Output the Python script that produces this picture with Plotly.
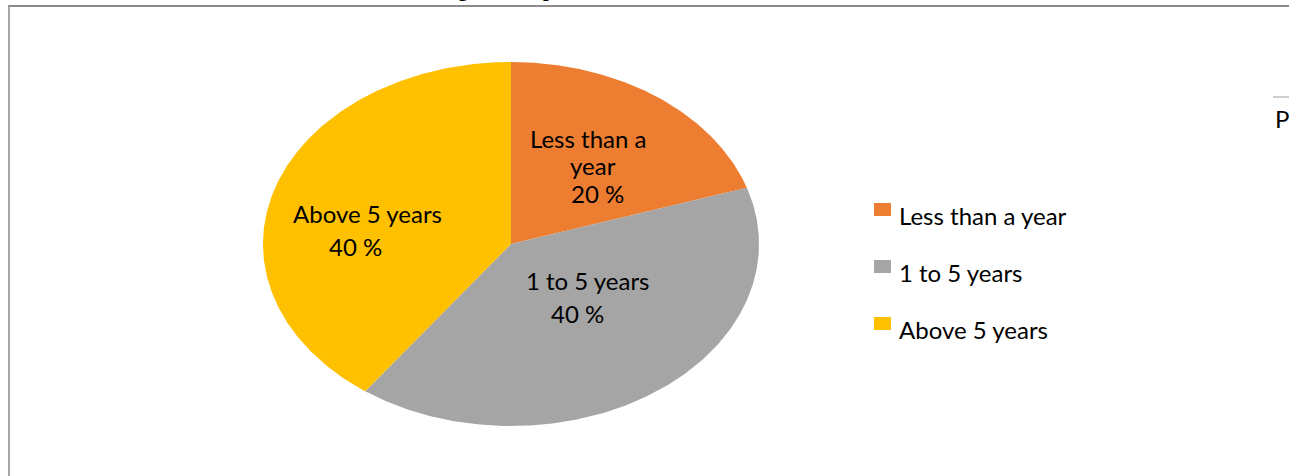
import numpy as np
import plotly.graph_objects as go

categories = ["Less than a year", "1 to 5 years", "Above 5 years"]
values = [20, 40, 40]
colors = ["#ED7D31", "#A5A5A5", "#FFC000"]
# category names as wrapped inside the slices
wrapped_names = [["Less than a", "year"], ["1 to 5 years"], ["Above 5 years"]]

W, H = 1289, 476
cx, cy, rx, ry = 511, 244, 248, 182
FONT = "Lato"
FS = 24

fig = go.Figure()
total = sum(values)
start = 0.0
for cat, v, col in zip(categories, values, colors):
    a0 = start / total * 2 * np.pi
    a1 = (start + v) / total * 2 * np.pi
    t = np.linspace(a0, a1, 200)
    xs = np.concatenate([[cx], cx + rx * np.sin(t), [cx]])
    ys = np.concatenate([[cy], cy - ry * np.cos(t), [cy]])
    fig.add_trace(go.Scatter(x=xs, y=ys, fill="toself", fillcolor=col, mode="lines",
                             line=dict(width=0, color=col), name=cat, hoverinfo="name",
                             showlegend=False))
    start += v

# slice labels: one annotation per text line (position of each line)
line_pos = [
    [(588, 138.5), (593, 165.5), (597, 193.5)],
    [(588, 280), (577, 313.5)],
    [(367, 213), (355, 246.5)],
]
for names, v, positions in zip(wrapped_names, values, line_pos):
    lines = names + ["%d %%" % v]
    for txt, (lx, ly) in zip(lines, positions):
        fig.add_annotation(x=lx, y=ly, text=txt, showarrow=False, xref="x", yref="y",
                           xanchor="center", yanchor="middle",
                           font=dict(family=FONT, size=FS, color="#000000"))

# legend
leg_y = [217, 274, 331]
for cat, col, ly in zip(categories, colors, leg_y):
    fig.add_shape(type="rect", x0=874, x1=891, y0=ly - 14, y1=ly - 1, xref="x", yref="y",
                  fillcolor=col, line=dict(width=0))
    fig.add_annotation(x=897, y=ly - 2, text=cat, showarrow=False, xanchor="left", yanchor="middle",
                       xref="x", yref="y", font=dict(family=FONT, size=FS, color="#000000"))

# frame lines
fig.add_shape(type="line", x0=8, x1=W, y0=6, y1=6, xref="x", yref="y",
              line=dict(color="#8c8c8c", width=2))
fig.add_shape(type="line", x0=9, x1=9, y0=6, y1=H, xref="x", yref="y",
              line=dict(color="#a6a6a6", width=2))
fig.add_shape(type="line", x0=1273, x1=W, y0=97, y1=97, xref="x", yref="y",
              line=dict(color="#d0d0d0", width=2))
fig.add_annotation(x=1273, y=118, text="P", showarrow=False, xanchor="left", yanchor="middle",
                   xref="x", yref="y", font=dict(family=FONT, size=FS, color="#000000"))
# cut-off title descenders
for ch, gx in [("g", 463), ("p", 548)]:
    fig.add_annotation(x=gx, y=1 + 11.0 / H, text="<b>%s</b>" % ch, showarrow=False, xanchor="center",
                       yanchor="middle", xref="x", yref="paper",
                       font=dict(family="Liberation Serif", size=20, color="#000000"))

fig.update_layout(
    width=W, height=H, margin=dict(l=0, r=0, t=0, b=0),
    paper_bgcolor="white", plot_bgcolor="white",
    xaxis=dict(range=[0, W], visible=False, fixedrange=True),
    yaxis=dict(range=[H, 0], visible=False, fixedrange=True),
    showlegend=False,
)
fig.write_html("out.html")
